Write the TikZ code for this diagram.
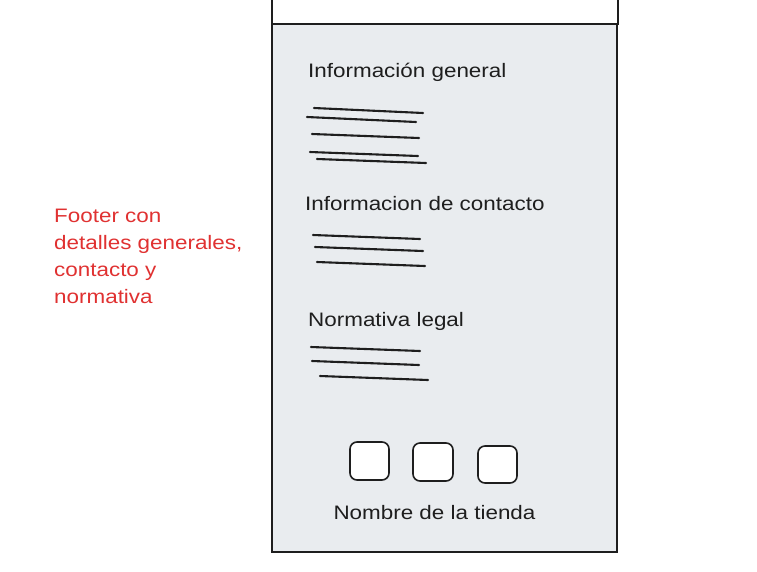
\documentclass[tikz,border=0pt]{standalone}
\usepackage{fontspec}
\setmainfont{Liberation Sans}[FakeStretch=1.15]
\definecolor{ink}{HTML}{1E1E1E}
\definecolor{panel}{HTML}{E9ECEF}
\definecolor{note}{HTML}{E03131}
\tikzset{
  heading/.style={anchor=west, inner sep=0pt, text=ink, font=\fontsize{19.5}{23}\selectfont},
  textline/.style={draw=ink, line width=2.1pt, line cap=round},
  iconbox/.style={draw=ink, fill=white, line width=1.6pt, rounded corners=7pt},
  frame/.style={draw=ink, line width=1.6pt},
}
\begin{document}
\begin{tikzpicture}[x=1pt,y=-1pt]
\useasboundingbox (0,0) rectangle (757,571);
\fill[white] (0,0) rectangle (757,571);
% top white block
\path[frame, fill=white] (272,-10) rectangle (618,24);
% main panel
\path[frame, fill=panel] (272,24) rectangle (617,552);

% Información general
\node[heading] (h1) at (308,72) {Información general};
\draw[textline] (314,108) -- (423,113);
\draw[textline] (307,117) -- (416,122);
\draw[textline] (312,134) -- (419,138);
\draw[textline] (310,152) -- (418,156);
\draw[textline] (317,159) -- (426,163);

% Informacion de contacto
\node[heading] (h2) at (305,204) {Informacion de contacto};
\draw[textline] (313,235) -- (420,239);
\draw[textline] (315,247) -- (423,251);
\draw[textline] (317,262) -- (425,266);

% Normativa legal
\node[heading] (h3) at (308,321) {Normativa legal};
\draw[textline] (311,347) -- (420,351);
\draw[textline] (312,361) -- (419,365);
\draw[textline] (320,376) -- (428,380);

% icons
\path[iconbox] (350,442) rectangle (389,480);
\node[inner sep=0pt] (i1) at (369.5,461) {};
\path[iconbox] (413,443) rectangle (453,481);
\node[inner sep=0pt] (i2) at (433,462) {};
\path[iconbox] (478,446) rectangle (517,483);
\node[inner sep=0pt] (i3) at (497.5,464.5) {};

\node[heading, anchor=center] (store) at (434.5,513) {Nombre de la tienda};

% annotation
\node[anchor=north west, inner sep=0pt, align=left, text=note,
      font=\fontsize{19.5}{27}\selectfont] (note) at (54,209)
  {Footer con\\detalles generales,\\contacto y\\normativa};
\end{tikzpicture}
\end{document}
